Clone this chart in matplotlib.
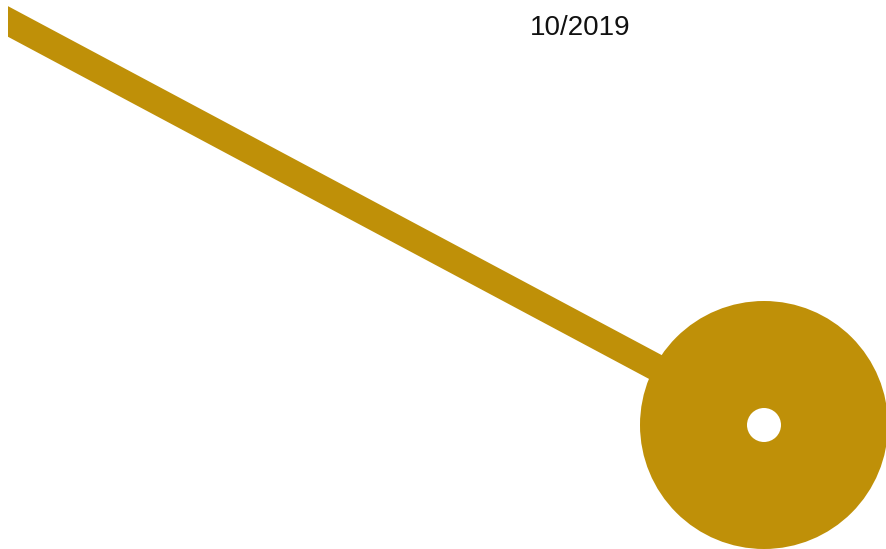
import matplotlib
matplotlib.use("Agg")
import matplotlib.pyplot as plt
from matplotlib.patches import Circle

# data (pixel-space layout of the graphic)
line_x = [0, 764]
line_y = [17.2, 425]
dot_x = [764]
dot_y = [425]
dot_radius = [124]
hole_radius = [17]
label = "10/2019"

gold = "#BF9008"
W, H = 886, 549
fig = plt.figure(figsize=(W / 100, H / 100), dpi=100)
ax = fig.add_axes([8 / W, 0, 1 - 8 / W, 1])
ax.set_xlim(8, W)
ax.set_ylim(H, 0)
ax.axis("off")

ax.plot(line_x, line_y, color=gold, lw=27 * 72 / 100, solid_capstyle="butt", zorder=1)
for x, y, r, h in zip(dot_x, dot_y, dot_radius, hole_radius):
    ax.add_patch(Circle((x, y), r, color=gold, zorder=2, lw=0))
    ax.add_patch(Circle((x, y), h, color="white", zorder=3, lw=0))

fig.text(580 / W, 1 - 28 / H, label, ha="center", va="center",
         fontsize=20, family="Liberation Sans", color="#111111")

fig.savefig("out.png", dpi=100, facecolor="white")
